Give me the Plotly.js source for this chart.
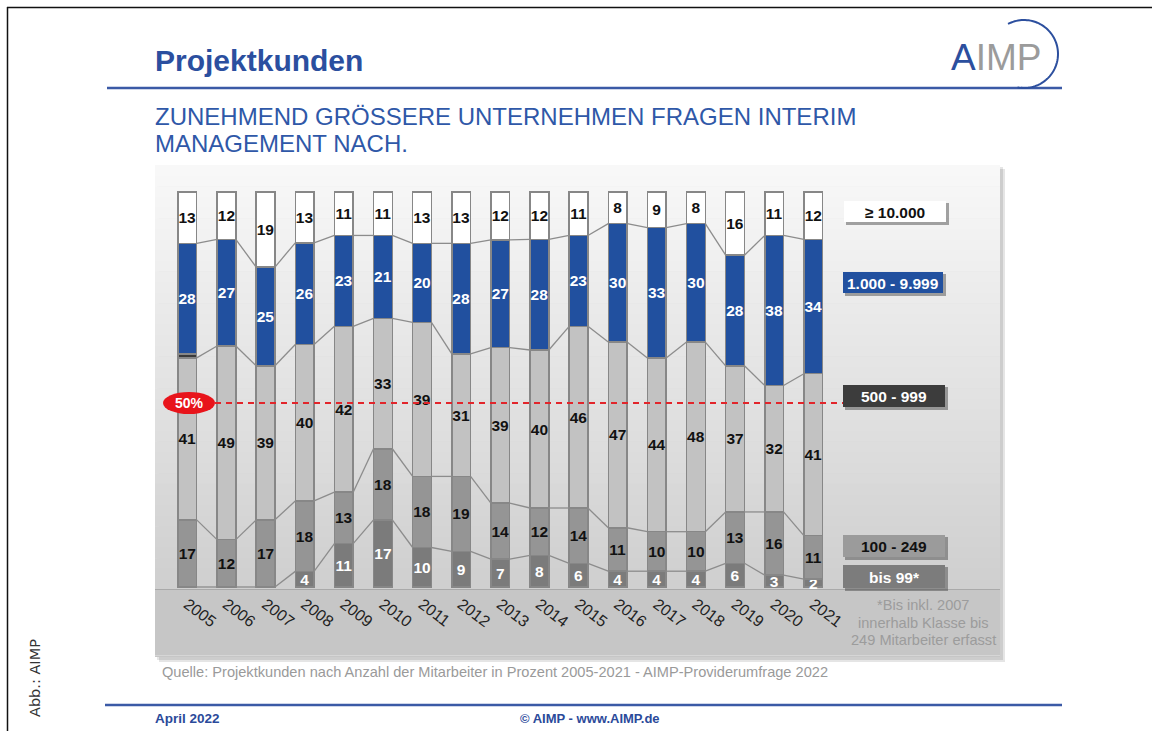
<!DOCTYPE html>
<html><head><meta charset="utf-8">
<script src="https://cdn.plot.ly/plotly-3.0.1.min.js"></script>
<style>html,body{margin:0;padding:0;background:#fff;}#chart{width:1152px;height:731px;}</style>
</head><body><div id="chart"></div>
<script>
// ---------- DATA ----------
const years = [2005,2006,2007,2008,2009,2010,2011,2012,2013,2014,2015,2016,2017,2018,2019,2020,2021];
const yearLabels = ['2005','2006','2007','2008','2009','2010','2011','2012','2013','2014','2015','2016','2017','2018','2019','2020','2021'];
const categories = ['bis 99*','100 - 249','500 - 999','1.000 - 9.999','≥ 10.000'];
const bis99     = [null,null,null,4,11,17,10,9,7,8,6,4,4,4,6,3,2];
const k100_249  = [17,12,17,18,13,18,18,19,14,12,14,11,10,10,13,16,11];
const k500_999  = [41,49,39,40,42,33,39,31,39,40,46,47,44,48,37,32,41];
const sliver    = [1,0,0,0,0,0,0,0,0,0,0,0,0,0,0,0,0];
const k1000_9999= [28,27,25,26,23,21,20,28,27,28,23,30,33,30,28,38,34];
const k10000    = [13,12,19,13,11,11,13,13,12,12,11,8,9,8,16,11,12];
const refLabel = '50%';
const titleText = 'Projektkunden';
const subtitle1 = 'ZUNEHMEND GRÖSSERE UNTERNEHMEN FRAGEN INTERIM';
const subtitle2 = 'MANAGEMENT NACH.';
const sourceText = 'Quelle: Projektkunden nach Anzahl der Mitarbeiter in Prozent 2005-2021 - AIMP-Providerumfrage 2022';
const footnote = ['*Bis inkl. 2007','innerhalb Klasse bis','249 Mitarbeiter erfasst'];

// ---------- GEOMETRY HELPERS ----------
const L=155, R=1000, T=165, B=657;
const fx = x => (x-L)/(R-L);
const fy = y => (B-y)/(B-T);
const FONT = 'Liberation Sans, Arial, sans-serif';
const BW = 0.48;

const colors = {bis:'#7b7b7b', mid:'#959595', light:'#c2c2c2', sliver:'#3a3a3a', blue:'#21509f', white:'#ffffff'};
const outline = {color:'#878787', width:1.5};

function barTrace(vals, color, txtColor, name){
  return {type:'bar', x:years, y:vals, name:name, width:BW,
    marker:{color:color, line:outline},
    text: vals.map(v => (v ? String(v) : '')),
    textposition:'inside', insidetextanchor:'middle', constraintext:'none', textangle:0,
    textfont:{family:FONT, size:15.5, color:txtColor, weight:'bold'},
    hoverinfo:'skip'};
}
const traces = [
  barTrace(bis99, colors.bis, '#ffffff', categories[0]),
  barTrace(k100_249, colors.mid, '#111111', categories[1]),
  barTrace(k500_999, colors.light, '#111111', categories[2]),
  barTrace(sliver, colors.sliver, '#ffffff', ''),
  barTrace(k1000_9999, colors.blue, '#ffffff', categories[3]),
  barTrace(k10000, colors.white, '#111111', categories[4])
];
traces[3].text = sliver.map(()=> '');

// connector lines between adjacent bars (normalised like the bars)
const z = a => a.map(v => v || 0);
const totals = years.map((_,i)=> z(bis99)[i]+k100_249[i]+k500_999[i]+sliver[i]+k1000_9999[i]+k10000[i]);
const c1 = z(bis99);
const c2 = c1.map((v,i)=> v + k100_249[i]);
const c3 = c2.map((v,i)=> v + k500_999[i]);
const c4 = c3.map((v,i)=> v + sliver[i] + k1000_9999[i]);
[c1,c2,c3,c4].forEach(c => {
  const xs=[], ys=[];
  for(let i=0;i<years.length-1;i++){
    xs.push(years[i]+BW/2, years[i+1]-BW/2, null);
    ys.push(c[i]*100/totals[i], c[i+1]*100/totals[i+1], null);
  }
  traces.push({type:'scatter', mode:'lines', x:xs, y:ys, line:{color:'#8c8c8c', width:1.3}, hoverinfo:'skip', showlegend:false});
});

// ---------- DECORATION ----------
const shapes = [];
const annotations = [];
function rect(x0,y0,x1,y1,fill,layer){
  shapes.push({type:'rect', xref:'paper', yref:'paper', x0:fx(x0), x1:fx(x1), y0:fy(y1), y1:fy(y0),
    fillcolor:fill, line:{width:0}, layer:layer||'below'});
}
function hline(x0,x1,y,color,w,dash,layer){
  shapes.push({type:'line', xref:'paper', yref:'paper', x0:fx(x0), x1:fx(x1), y0:fy(y), y1:fy(y),
    line:{color:color, width:w, dash:dash||'solid'}, layer:layer||'above'});
}
function vline(x,y0,y1,color,w){
  shapes.push({type:'line', xref:'paper', yref:'paper', x0:fx(x), x1:fx(x), y0:fy(y0), y1:fy(y1),
    line:{color:color, width:w}, layer:'above'});
}
function txt(x,y,text,size,color,opts){
  annotations.push(Object.assign({xref:'paper', yref:'paper', x:fx(x), y:fy(y), text:text, showarrow:false,
    font:{family:FONT, size:size, color:color}, xanchor:'center', yanchor:'middle'}, opts||{}));
}
function hexGray(v){ const h=Math.round(v).toString(16).padStart(2,'0'); return '#'+h+h+h; }

// panel shadow
rect(159,169,1005,662,'rgba(0,0,0,0.10)');
rect(157,167,1003,660,'rgba(0,0,0,0.10)');
// panel gradient
const N=40, gTop=165, gBot=590;
for(let k=0;k<N;k++){
  const y0=gTop+(gBot-gTop)*k/N, y1=gTop+(gBot-gTop)*(k+1)/N+0.6;
  const t=k/(N-1);
  rect(L,y0,R,y1,hexGray(248-(248-207)*t));
}
rect(L,590,R,657,'#c6c6c6');
hline(L,R,589.5,'#a9a9a9',1.2,'solid','below');
hline(L,R,655.5,'#d6d6d6',1,'solid','below');

// 50% reference
hline(215,858,403,'#e2252b',2.2,'6px,5px','above');
shapes.push({type:'circle', xref:'paper', yref:'paper', x0:fx(163), x1:fx(215), y0:fy(414), y1:fy(392),
  fillcolor:'#e8141b', line:{width:0}, layer:'above'});
txt(189,403,'<b>'+refLabel+'</b>',14,'#ffffff');

// legend boxes
const legendBoxes = [
  {y0:201,y1:222,x0:844,x1:946,fill:'#ffffff',tc:'#111111',label:categories[4]},
  {y0:272,y1:293,x0:843,x1:943,fill:'#21509f',tc:'#ffffff',label:categories[3]},
  {y0:385,y1:407,x0:843,x1:945,fill:'#3c3c3c',tc:'#ffffff',label:categories[2]},
  {y0:535,y1:557,x0:843,x1:945,fill:'#9b9b9b',tc:'#111111',label:categories[1]},
  {y0:565,y1:588,x0:843,x1:945,fill:'#7c7c7c',tc:'#ffffff',label:categories[0]}
];
legendBoxes.forEach(b=>{
  shapes.push({type:'rect', xref:'paper', yref:'paper', x0:fx(b.x0+2), x1:fx(b.x1+3), y0:fy(b.y1+3), y1:fy(b.y0+2),
    fillcolor:'rgba(60,60,60,0.45)', line:{width:0}, layer:'above'});
  shapes.push({type:'rect', xref:'paper', yref:'paper', x0:fx(b.x0), x1:fx(b.x1), y0:fy(b.y1), y1:fy(b.y0),
    fillcolor:b.fill, line:{width:0}, layer:'above'});
  txt((b.x0+b.x1)/2, (b.y0+b.y1)/2+0.5, '<b>'+b.label+'</b>', 15.5, b.tc);
});

// footnote + source
footnote.forEach((s,i)=> txt(923, 605+i*17.5, s, 14.6, '#9c9c9c'));
txt(160, 672, sourceText, 14.6, '#9a9a9a', {xanchor:'left'});

// header
txt(153, 60, '<b>'+titleText+'</b>', 30, '#2b4f9f', {xanchor:'left'});
hline(107,1062,88,'#3b5aa6',2.6);
txt(153, 117, subtitle1, 24, '#2f58a8', {xanchor:'left'});
txt(153, 143, subtitle2, 24, '#2f58a8', {xanchor:'left'});

// logo
txt(996, 58, '<span style="color:#2c4f9e">A</span><span style="color:#9b9b9b">IMP</span>', 37, '#2c4f9e');
(function(){
  const cx=1024, cy=54, r=34; let d='';
  for(let a=118; a>=-102; a-=3){
    const rad=a*Math.PI/180;
    const px=cx+r*Math.cos(rad), py=cy-r*Math.sin(rad);
    d += (d?' L ':'M ') + fx(px).toFixed(5)+' '+fy(py).toFixed(5);
  }
  shapes.push({type:'path', xref:'paper', yref:'paper', path:d, line:{color:'#2c4f9e', width:2}, layer:'above'});
})();

// footer
hline(105,1062,705,'#3b5aa6',2.6);
txt(153, 718, '<b>April 2022</b>', 13.5, '#2b4a9a', {xanchor:'left'});
txt(590, 718, '<b>© AIMP - www.AIMP.de</b>', 13, '#2b4a9a');

// side caption
txt(35, 678, 'Abb.: AIMP', 14, '#333333', {textangle:-90, font:{family:'DejaVu Sans, sans-serif', size:14.5, color:'#333333'}});

// page frame
hline(7,1152,7.5,'#111111',1.5);
vline(7.5,7,731,'#111111',1.5);

const layout = {
  width:1152, height:731,
  margin:{l:L, r:1152-R, t:T, b:731-B, pad:0},
  paper_bgcolor:'#ffffff', plot_bgcolor:'rgba(0,0,0,0)',
  barmode:'stack', barnorm:'percent', bargap:0, showlegend:false, hovermode:false,
  xaxis:{range:[2005-(187.3-L)/39.125, 2005-(187.3-L)/39.125+(R-L)/39.125], tickmode:'array', tickvals:years, ticktext:yearLabels,
    tickangle:37, anchor:'free', position:fy(591), showgrid:false, zeroline:false, showline:false, ticks:'',
    tickfont:{family:FONT, size:16, color:'#222222'}},
  yaxis:{range:[-(B-587)/3.95, (587-T)/3.95], visible:false, showgrid:false, zeroline:false},
  shapes:shapes, annotations:annotations
};
Plotly.newPlot('chart', traces, layout, {staticPlot:true, displayModeBar:false});
</script></body></html>
